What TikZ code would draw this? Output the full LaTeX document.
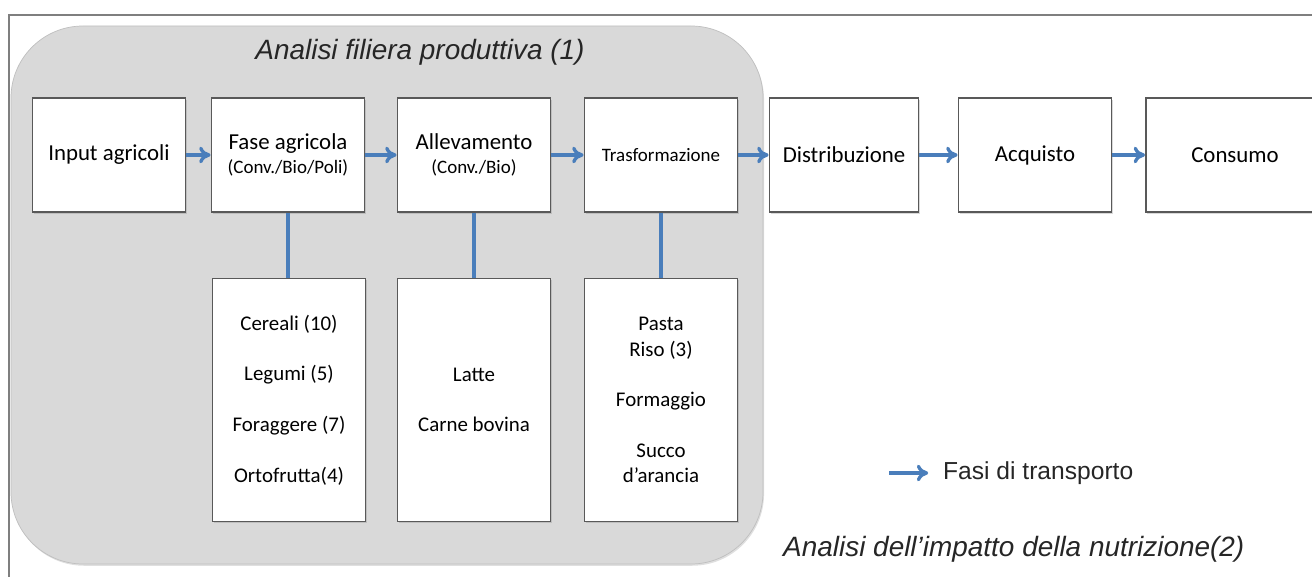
\documentclass[tikz,border=0pt]{standalone}
\usepackage{fontspec}
\setmainfont{Carlito}
\newfontfamily\helv{Liberation Sans}
\usetikzlibrary{arrows.meta, positioning, shadows}

\definecolor{flowblue}{HTML}{4A7EBB}
\definecolor{areagray}{HTML}{D9D9D9}
\definecolor{boxline}{HTML}{595959}
\definecolor{frameline}{HTML}{7F7F7F}
\newcommand{\smalltxt}{\fontsize{10.8}{13}\selectfont}

\begin{document}
\begin{tikzpicture}[x=0.02cm, y=-0.02cm,
  stage/.style={draw=boxline, line width=1.1pt, fill=white,
    minimum width=3.06cm, minimum height=2.28cm, align=center,
    inner sep=2pt, font=\fontsize{13}{14}\selectfont,
    drop shadow={shadow xshift=0.7pt, shadow yshift=-0.9pt, opacity=0.3}},
  prodbox/.style={stage, minimum height=4.86cm,
    font=\fontsize{11.9}{14.4}\selectfont},
  ttl/.style={font=\helv\itshape\fontsize{15.9}{19}\selectfont, text=black!85},
  arr/.style={-{To[length=6.5pt, width=9.5pt]}, line width=1.9pt, flowblue},
  link/.style={line width=2.1pt, flowblue},
]
\clip (0,0) rectangle (1312,577);

% ── Frame and production area ──
\draw[frameline, line width=1pt] (9,640) |- (1380,15);
\draw[draw=black!25, fill=areagray, rounded corners=1.44cm,
  drop shadow={shadow xshift=0.6pt, shadow yshift=-1pt, opacity=0.25}]
  (11,26) rectangle (763,564);
\node[ttl] (titolo1) at (420,52) {Analisi filiera produttiva (1)};

% ── Top row: stages of the chain ──
\node[stage] (inp)   at (109,155)  {Input agricoli};
\node[stage] (fase)  at (288,155)  {Fase agricola\\{\smalltxt (Conv./Bio/Poli)}};
\node[stage] (alle)  at (474,155)  {Allevamento\\{\smalltxt (Conv./Bio)}};
\node[stage] (trasf) at (661,155)  {\smalltxt Trasformazione};
\node[stage, minimum width=2.98cm] (distr) at (844,155) {Distribuzione};
\node[stage] (acq)   at (1035,155) {Acquisto};
\node[stage, minimum width=3.56cm] (cons) at (1235,155) {Consumo};

% ── Bottom row: products ──
\node[prodbox] (prod1) at (289,400)
  {Cereali (10)\\[14.4pt]Legumi (5)\\[14.4pt]Foraggere (7)\\[14.4pt]Ortofrutta(4)};
\node[prodbox] (prod2) at (474,400)
  {Latte\\[14.4pt]Carne bovina};
\node[prodbox] (prod3) at (661,400)
  {Pasta\\Riso (3)\\[14.4pt]Formaggio\\[14.4pt]Succo\\d’arancia};

% Vertical links: stage → products
\draw[link] (fase.south) -- (fase.south |- prod1.north);
\draw[link] (alle.south) -- (alle.south |- prod2.north);
\draw[link] (trasf.south) -- (trasf.south |- prod3.north);

% Transport arrows between stages
\foreach \a/\b in {inp/fase, fase/alle, alle/trasf, trasf/distr, distr/acq, acq/cons}
  \draw[arr] (\a) -- (\b);

% ── Legend and second title ──
\coordinate (lgA) at (889,473);
\node[anchor=west, font=\helv\fontsize{14}{17}\selectfont, text=black!85]
  (lgtext) at (937,473) {Fasi di transporto};
\draw[arr, shorten >=5pt] (lgA) -- (lgtext.west);
\node[ttl, anchor=west] (titolo2) at (777,549)
  {Analisi dell’impatto della nutrizione(2)};
\end{tikzpicture}
\end{document}
